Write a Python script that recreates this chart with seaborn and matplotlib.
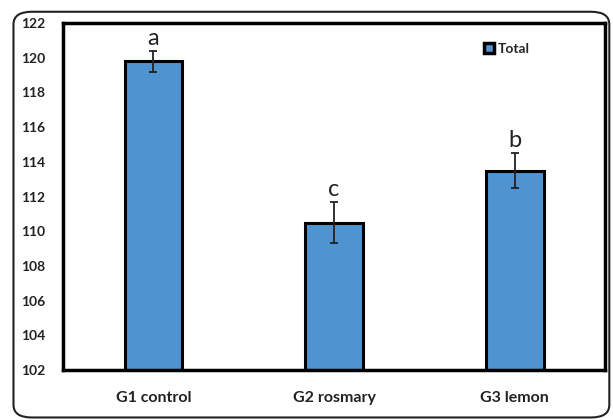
import pandas as pd
import matplotlib.pyplot as plt
import seaborn as sns
from matplotlib.patches import FancyBboxPatch

# данные с рисунка
groups = ['G1 control', 'G2 rosmary', 'G3 lemon']
values = [119.8, 110.5, 113.5]
errors = [0.6, 1.2, 1.0]
letters = ['a', 'c', 'b']
yticks = list(range(102, 123, 2))

df = pd.DataFrame({'group': groups, 'value': values, 'err': errors})

sns.set_style('white')
plt.rcParams['font.family'] = ['Lato', 'DejaVu Sans']

fig = plt.figure(figsize=(6.13, 4.2), dpi=100)
ax = fig.add_axes([0.103, 0.119, 0.884, 0.826])

# рамка вокруг всего рисунка
fig.patches.append(FancyBboxPatch((0.022, 0.006), 0.972, 0.966,
                                  boxstyle='round,pad=0,rounding_size=0.03',
                                  transform=fig.transFigure, fill=False,
                                  edgecolor='#222222', linewidth=1.5))

sns.barplot(data=df, x='group', y='value', color='#4f93d0', width=0.32,
            edgecolor='black', linewidth=2.2, saturation=1, label='Total', ax=ax)

for i, p in enumerate(ax.patches):
    xc = p.get_x() + p.get_width() / 2
    ax.errorbar(xc, df.value[i], yerr=df.err[i], fmt='none', ecolor='#222222',
                elinewidth=1.3, capsize=3, capthick=1.3)
    ax.text(xc, df.value[i] + df.err[i] + 0.1, letters[i], ha='center', va='bottom',
            fontsize=17, color='#222222')

ax.set_xlim(-0.5, len(groups) - 0.5)
ax.set_ylim(102, 122)
ax.set_yticks(yticks)
ax.set_xlabel('')
ax.set_ylabel('')
for s in ax.spines.values():
    s.set_linewidth(2.5)
    s.set_color('black')
ax.tick_params(axis='y', length=0, pad=13, labelsize=10)
ax.tick_params(axis='x', length=0, pad=15, labelsize=11.5)
for t in ax.get_xticklabels() + ax.get_yticklabels():
    t.set_fontweight('bold')
    t.set_color('#222222')

leg = ax.legend(loc='upper right', bbox_to_anchor=(0.885, 0.98), frameon=False,
                handlelength=0.75, handleheight=0.75, handletextpad=0.3,
                prop={'weight': 'bold', 'size': 10})
for h in leg.legend_handles:
    h.set_linewidth(2.5)

fig.savefig('out.png', dpi=100)
